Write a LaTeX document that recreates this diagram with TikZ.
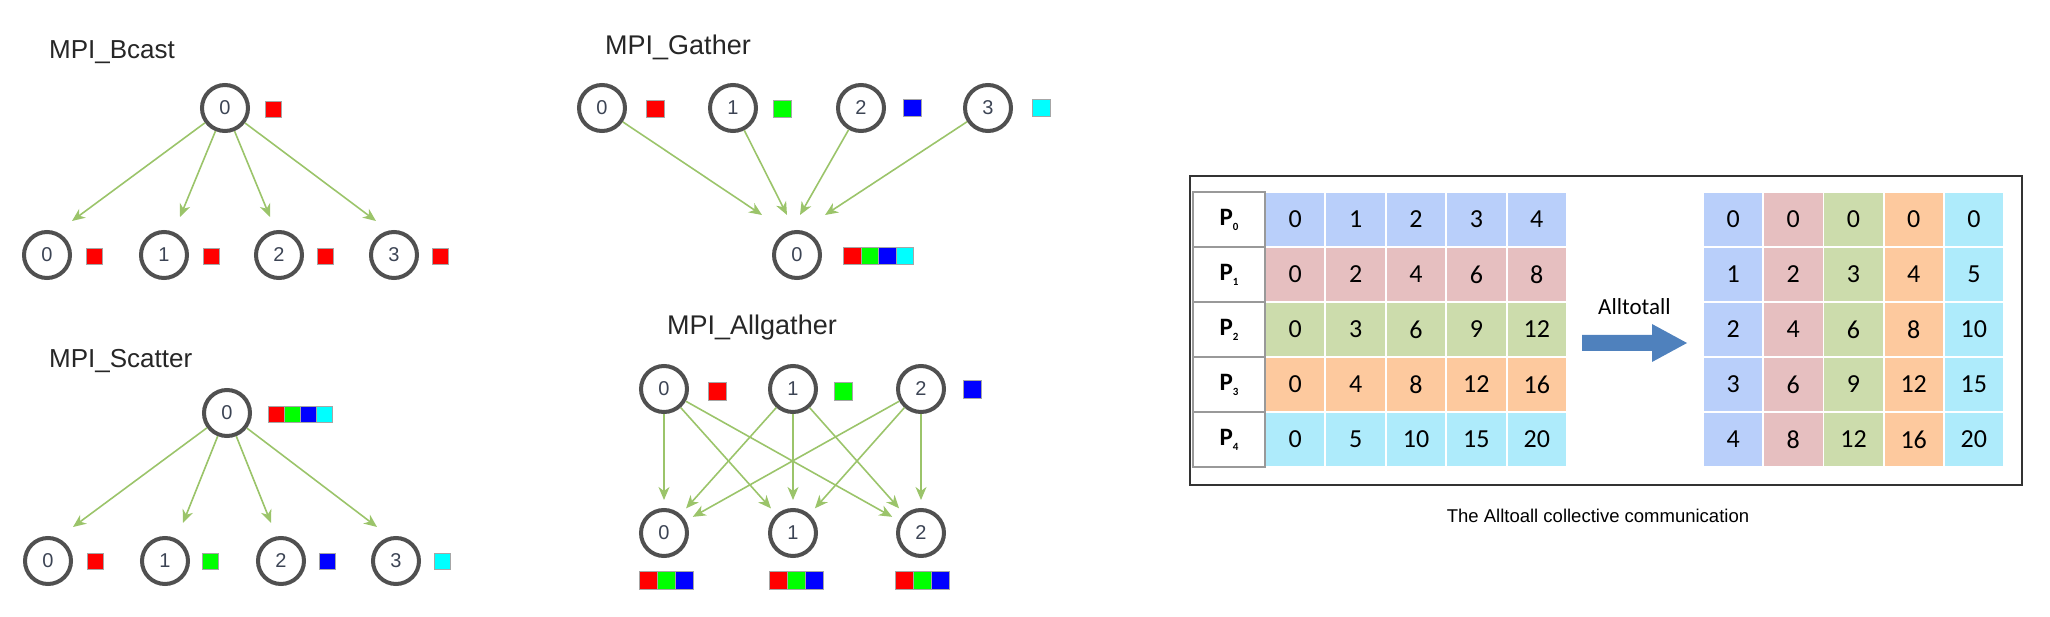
\documentclass[tikz,border=0pt]{standalone}
\usepackage{fontspec}
\setmainfont{Liberation Sans}
\newfontfamily\tabfont{Carlito}
\usetikzlibrary{arrows.meta}
\definecolor{ringc}{HTML}{505050}
\definecolor{digc}{HTML}{3C4454}
\definecolor{arrc}{HTML}{9BC46A}
\definecolor{rowA}{HTML}{B9CFFA}
\definecolor{rowB}{HTML}{E6BFC0}
\definecolor{rowC}{HTML}{CCDCAC}
\definecolor{rowD}{HTML}{FDC99E}
\definecolor{rowE}{HTML}{AEEBFB}
\definecolor{bigarr}{HTML}{4F81BD}
\definecolor{sqr}{RGB}{255,0,0}
\definecolor{sqg}{RGB}{0,255,0}
\definecolor{sqb}{RGB}{0,0,255}
\definecolor{sqc}{RGB}{0,255,255}
\begin{document}
\begin{tikzpicture}[x=1pt,y=-1pt,
  proc/.style={circle,draw=ringc,line width=4pt,minimum size=46pt,inner sep=0pt,font=\fontsize{20}{20}\selectfont,text=digc},
  flow/.style={draw=arrc,line width=1.6pt,-{Stealth[length=13pt,width=11pt,inset=4pt]}},
  title/.style={anchor=base west,font=\fontsize{26}{26}\selectfont,text=black!85,inner sep=0pt},
  blk/.style={draw=black!35,line width=0.6pt,minimum size=16pt,inner sep=0pt,anchor=north west},
  blkb/.style={blk,minimum size=17.5pt},
  cell/.style={minimum width=58.4pt,minimum height=53pt,inner sep=0pt,font=\tabfont\fontsize{26}{26}\selectfont},
  pcell/.style={draw=black!40,line width=2pt,minimum width=72pt,minimum height=55pt,inner sep=0pt,font=\tabfont\bfseries\fontsize{25}{25}\selectfont}
]
\useasboundingbox (0,0) rectangle (2050,617);

% ---------- MPI_Bcast ----------
\node[title] (tb) at (49,59) {MPI\_Bcast};
\node[proc] (b0) at (225,108) {0};
\node[blk,fill=sqr] (bs0) at (265,101) {};
\node[proc] (b1) at (47,255) {0};
\node[proc] (b2) at (164,255) {1};
\node[proc] (b3) at (279,255) {2};
\node[proc] (b4) at (394,255) {3};
\node[blk,fill=sqr] (bs1) at (86,248) {};
\node[blk,fill=sqr] (bs2) at (203,248) {};
\node[blk,fill=sqr] (bs3) at (317,248) {};
\node[blk,fill=sqr] (bs4) at (432,248) {};
\coordinate (bt1) at (72,221);
\coordinate (bt2) at (180,217);
\coordinate (bt3) at (270,217);
\coordinate (bt4) at (376,221);
\foreach \i in {1,...,4} \draw[flow] (b0) -- (bt\i);

% ---------- MPI_Scatter ----------
\node[title] (ts) at (49,367) {MPI\_Scatter};
\node[proc] (s0) at (227,413) {0};
\node[blk,fill=sqr] (ss0a) at (268,406) {};
\node[blk,fill=sqg] (ss0b) at (284,406) {};
\node[blk,fill=sqb] (ss0c) at (300,406) {};
\node[blk,fill=sqc] (ss0d) at (316,406) {};
\node[proc] (s1) at (48,561) {0};
\node[proc] (s2) at (165,561) {1};
\node[proc] (s3) at (281,561) {2};
\node[proc] (s4) at (396,561) {3};
\node[blk,fill=sqr] (ss1) at (87,553) {};
\node[blk,fill=sqg] (ss2) at (202,553) {};
\node[blk,fill=sqb] (ss3) at (319,553) {};
\node[blk,fill=sqc] (ss4) at (434,553) {};
\coordinate (st1) at (73,527);
\coordinate (st2) at (183,523);
\coordinate (st3) at (271,523);
\coordinate (st4) at (377,527);
\foreach \i in {1,...,4} \draw[flow] (s0) -- (st\i);

% ---------- MPI_Gather ----------
\node[title,font=\fontsize{27}{27}\selectfont] (tg) at (605,55) {MPI\_Gather};
\node[proc] (g1) at (602,108) {0};
\node[proc] (g2) at (733,108) {1};
\node[proc] (g3) at (861,108) {2};
\node[proc] (g4) at (988,108) {3};
\node[blkb,fill=sqr] (gs1) at (646,100) {};
\node[blkb,fill=sqg] (gs2) at (773,100) {};
\node[blkb,fill=sqb] (gs3) at (903,99) {};
\node[blkb,fill=sqc] (gs4) at (1032,99) {};
\node[proc] (g0) at (797,255) {0};
\node[blkb,fill=sqr] (gs0a) at (843,247) {};
\node[blkb,fill=sqg] (gs0b) at (860.5,247) {};
\node[blkb,fill=sqb] (gs0c) at (878,247) {};
\node[blkb,fill=sqc] (gs0d) at (895.5,247) {};
\coordinate (gt1) at (762,215);
\coordinate (gt2) at (787,215);
\coordinate (gt3) at (800,215);
\coordinate (gt4) at (825,215);
\foreach \i in {1,...,4} \draw[flow] (g\i) -- (gt\i);

% ---------- MPI_Allgather ----------
\node[title,font=\fontsize{27}{27}\selectfont] (ta) at (667,335) {MPI\_Allgather};
\node[proc] (a0) at (664,389) {0};
\node[proc] (a1) at (793,389) {1};
\node[proc] (a2) at (921,389) {2};
\node[blkb,fill=sqr] (as0) at (708,382) {};
\node[blkb,fill=sqg] (as1) at (834,382) {};
\node[blkb,fill=sqb] (as2) at (963,380) {};
\node[proc] (c0) at (664,533) {0};
\node[proc] (c1) at (793,533) {1};
\node[proc] (c2) at (921,533) {2};
\foreach \x/\n in {639/0,769/1,895/2}{
  \node[blkb,minimum size=18pt,fill=sqr] (cr\n) at (\x,571) {};
  \node[blkb,minimum size=18pt,fill=sqg] (cg\n) at (\x+18,571) {};
  \node[blkb,minimum size=18pt,fill=sqb] (cb\n) at (\x+36,571) {};
}
\foreach \i in {0,1,2}
  \foreach \j in {0,1,2}
    \draw[flow,shorten >=8pt] (a\i) -- (c\j);

% ---------- Alltoall ----------
\draw[line width=2pt,draw=black!80] (1190,176) rectangle (2022,485);
\foreach \r/\col in {0/rowA,1/rowB,2/rowC,3/rowD,4/rowE}{
  \node[pcell] (p\r) at (1229,219.5+55*\r) {P\raisebox{-5pt}{\fontsize{11}{11}\selectfont\bfseries\r}};
  \foreach \c in {0,...,4}{
    \pgfmathtruncatemacro{\v}{\c*(\r+1)}
    \node[cell,fill=\col] (l\r\c) at (1265+60.4*\c+30.2,219.5+55*\r) {\v};
  }
}
\foreach \c/\col in {0/rowA,1/rowB,2/rowC,3/rowD,4/rowE}{
  \foreach \r in {0,...,4}{
    \pgfmathtruncatemacro{\v}{\r*(\c+1)}
    \node[cell,fill=\col] (r\r\c) at (1703+60.2*\c+30.1,219.5+55*\r) {\v};
  }
}
\node[anchor=base west,inner sep=0pt,font=\tabfont\fontsize{23}{23}\selectfont] (lab) at (1598,315) {Alltotall};
\fill[bigarr] (1582,335) -- (1652,335) -- (1652,324) -- (1687,343) -- (1652,362) -- (1652,351) -- (1582,351) -- cycle;
\node[anchor=base,inner sep=0pt,font=\fontsize{18.5}{18.5}\selectfont] (cap) at (1598,522) {The Alltoall collective communication};
\end{tikzpicture}
\end{document}
